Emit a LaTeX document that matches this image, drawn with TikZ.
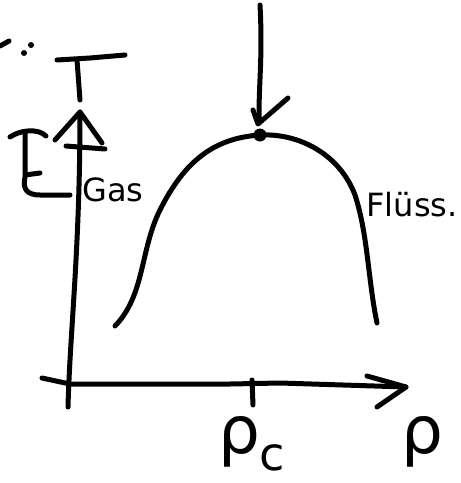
\documentclass[tikz,border=0pt]{standalone}
\usepackage{fontspec}
\setsansfont{DejaVu Sans}
\begin{document}
\begin{tikzpicture}[x=1pt,y=-1pt,
  pen/.style={line width=5pt,line cap=round,line join=round},
  lbl/.style={inner sep=0pt,font=\sffamily\fontsize{32}{32}\selectfont},
  sym/.style={inner sep=0pt,font=\sffamily\fontsize{66}{66}\selectfont}]
\useasboundingbox (0,0) rectangle (461,483);
% axes
\coordinate (ytop) at (80,112);
\coordinate (ybot) at (68,407);
\coordinate (xl) at (42,378);
\coordinate (xr) at (406,387);
\draw[pen] (ytop) .. controls (80,250) and (70,330) .. (ybot);
\draw[pen] (55,140) -- (ytop) -- (102,143);
\draw[pen] (66,146) -- (105,149);
\draw[pen] (xl) -- (70,384) -- (230,384) -- (280,383) -- (xr);
\draw[pen] (367,376) -- (xr) -- (377,407);
\draw[pen] (252,380) -- (253,405);
% T label and marks
\draw[pen] (57,60) -- (90,58) -- (125,55);
\draw[pen] (77,60) -- (80,100);
\draw[pen] (0,46) -- (9,41);
\fill (24,53) circle (3);
\fill (31,45) circle (3);
% bracket
\draw[pen] (10,137) .. controls (20,130) and (38,128) .. (46,136);
\draw[pen] (25,133) -- (25,175) -- (40,173);
\draw[pen] (25,177) .. controls (22,190) and (28,195) .. (40,195) -- (70,195);
% coexistence curve
\draw[pen] (115,326) .. controls (145,295) and (140,250) .. (160,210)
  .. controls (185,160) and (215,138) .. (260,135)
  .. controls (300,133) and (340,155) .. (355,195)
  .. controls (368,235) and (368,280) .. (377,323);
\node[circle,fill,inner sep=0pt,minimum size=13pt] (crit) at (260,135) {};
% arrow to critical point
\coordinate (atop) at (260,5);
\draw[pen,shorten >=8pt] (atop) .. controls (263,60) and (258,90) .. (crit);
\draw[pen] (253,110) -- (258,124) -- (288,98);
% labels
\node[lbl] (gas) at (113,190) {Gas};
\node[lbl] (fl) at (412,205) {Flüss.};
\node[sym] (rhoc) at (252,444) {ρ\textsubscript{c}};
\node[sym] (rho) at (422,442) {ρ};
\end{tikzpicture}
\end{document}
